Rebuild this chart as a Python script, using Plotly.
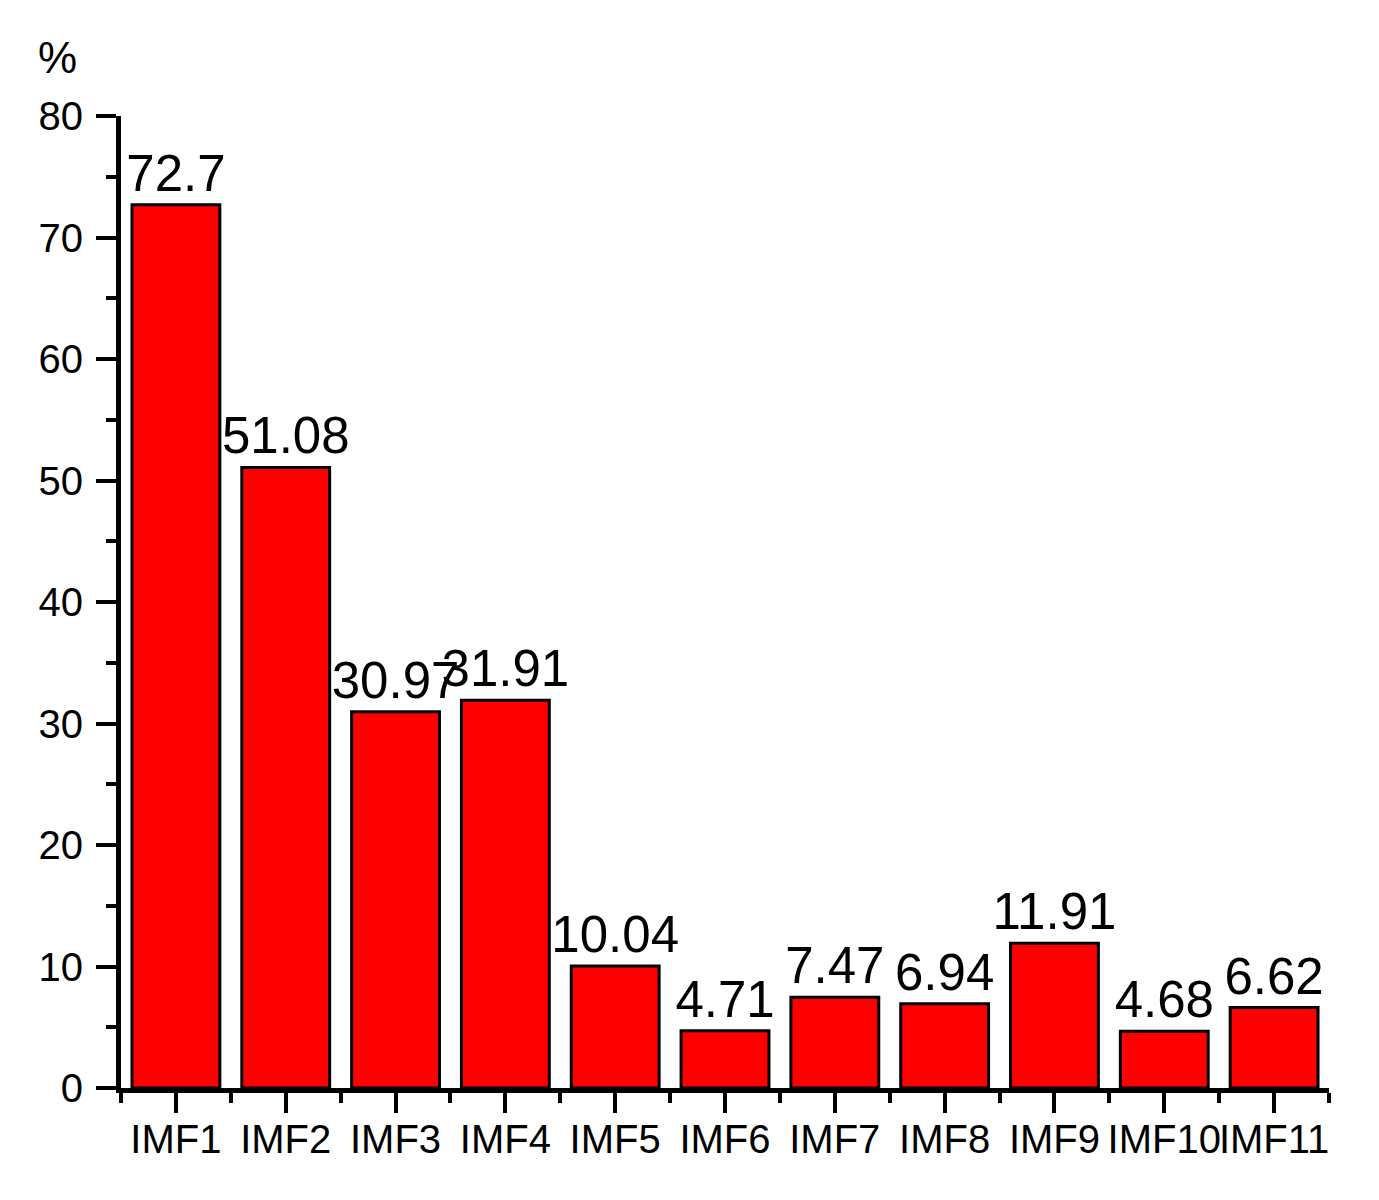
import plotly.graph_objects as go

categories = ["IMF1", "IMF2", "IMF3", "IMF4", "IMF5", "IMF6", "IMF7", "IMF8", "IMF9", "IMF10", "IMF11"]
values = [72.7, 51.08, 30.97, 31.91, 10.04, 4.71, 7.47, 6.94, 11.91, 4.68, 6.62]
value_labels = ["72.7", "51.08", "30.97", "31.91", "10.04", "4.71", "7.47", "6.94", "11.91", "4.68", "6.62"]
y_ticks = [0, 10, 20, 30, 40, 50, 60, 70, 80]

FONT = "Liberation Sans, Arial, sans-serif"
positions = list(range(len(categories)))

fig = go.Figure(go.Bar(
    x=positions, y=values, width=0.8,
    marker=dict(color="#FF0000", line=dict(color="black", width=3)),
    text=value_labels, textposition="outside", constraintext="none", cliponaxis=False,
    textfont=dict(family=FONT, size=51, color="black"),
))

fig.update_layout(
    width=1363, height=1184,
    margin=dict(l=113, r=42, t=108, b=104, autoexpand=False),
    plot_bgcolor="white", paper_bgcolor="white",
    showlegend=False,
    bargap=0.2,
    xaxis=dict(
        range=[-0.5, len(categories) - 0.5],
        tickmode="array", tickvals=positions, ticktext=categories,
        tickangle=0, automargin=False,
        ticks="outside", ticklen=20, tickwidth=4, tickcolor="black",
        showline=True, linewidth=5, linecolor="black",
        showgrid=False, zeroline=False,
        tickfont=dict(family=FONT, size=40, color="black"),
        ticklabelstandoff=-8,
        minor=dict(tickvals=[p - 0.5 for p in positions] + [len(categories) - 0.5],
                   ticks="outside", ticklen=10, tickwidth=4, tickcolor="black", showgrid=False),
    ),
    yaxis=dict(
        range=[0, 80], automargin=False,
        tickmode="array", tickvals=y_ticks,
        ticks="outside", ticklen=20, tickwidth=4, tickcolor="black",
        showline=True, linewidth=5, linecolor="black",
        showgrid=False, zeroline=False,
        tickfont=dict(family=FONT, size=40, color="black"),
        ticklabelstandoff=5,
        minor=dict(tickvals=[t + 5 for t in y_ticks[:-1]],
                   ticks="outside", ticklen=10, tickwidth=4, tickcolor="black", showgrid=False),
    ),
    annotations=[dict(
        text="%", xref="paper", yref="paper", x=0, y=1,
        xanchor="center", yanchor="bottom", xshift=-64, yshift=32,
        showarrow=False, font=dict(family=FONT, size=44, color="black"),
    )],
)

fig.write_html("out.html")
